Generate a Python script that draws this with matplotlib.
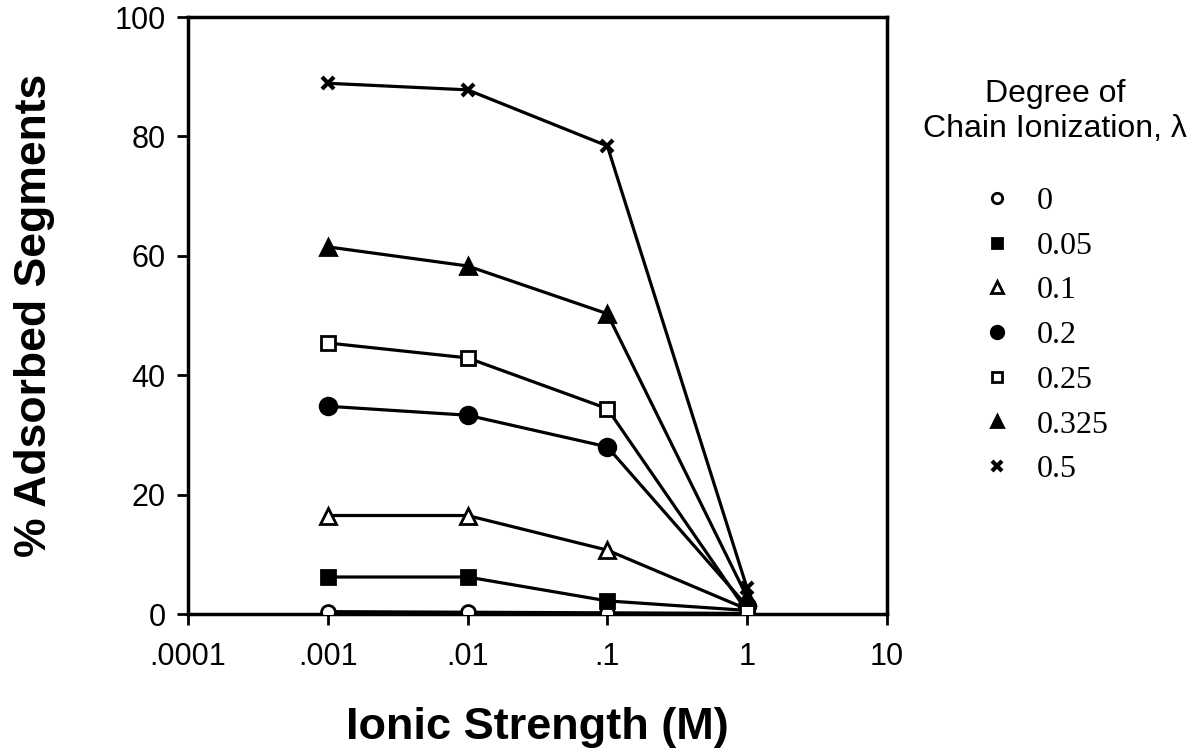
import numpy as np
import matplotlib
matplotlib.use("Agg")
import matplotlib.pyplot as plt

plt.rcParams['font.family'] = ['Liberation Sans', 'DejaVu Sans']

# ionic strength (M)
ionic = [0.001, 0.01, 0.1, 1.0]

# % adsorbed segments for each degree of chain ionization
lam_labels = ["0", "0.05", "0.1", "0.2", "0.25", "0.325", "0.5"]
ads_000 = [0.4, 0.3, 0.2, 0.1]
ads_005 = [6.2, 6.2, 2.2, 0.6]
ads_010 = [16.5, 16.5, 10.7, 0.8]
ads_020 = [34.8, 33.3, 28.0, 1.3]
ads_025 = [45.4, 42.9, 34.4, 0.4]
ads_0325 = [61.5, 58.3, 50.3, 2.8]
ads_050 = [88.9, 87.8, 78.4, 4.3]

series = [ads_000, ads_005, ads_010, ads_020, ads_025, ads_0325, ads_050]
# marker, filled?, size
styles = [("o", False, 10), ("s", True, 10), ("^", False, 11), ("o", True, 12),
          ("s", False, 10), ("^", True, 11), ("x", True, 9)]

fig = plt.figure(figsize=(12.01, 7.56), dpi=100)
ax = fig.add_axes([0.1565, 0.1878, 0.582, 0.7897])

handles = []
for vals, (mk, filled, ms) in zip(series, styles):
    h, = ax.plot(ionic, vals, color="black", lw=2.3, marker=mk, ms=ms,
                 mfc="black" if filled else "white", mec="black",
                 mew=3 if mk == "x" else 2, zorder=3)
    handles.append(h)

ax.set_xscale("log")
ax.set_xlim(1e-4, 10)
ax.set_ylim(0, 100)
ax.set_xticks([1e-4, 1e-3, 1e-2, 1e-1, 1, 10])
ax.set_xticklabels([".0001", ".001", ".01", ".1", "1", "10"])
ax.set_yticks([0, 20, 40, 60, 80, 100])
ax.minorticks_off()
ax.tick_params(axis="both", direction="out", length=8, width=2, labelsize=22, pad=8)
ax.tick_params(axis="x", pad=12)
for s in ax.spines.values():
    s.set_linewidth(2.5)

ax.set_xlabel("Ionic Strength (M)", fontsize=32.5, fontweight="bold")
ax.set_ylabel("% Adsorbed Segments", fontsize=32, fontweight="bold")
ax.xaxis.set_label_coords(0.5, -0.156)
ax.yaxis.set_label_coords(-0.19, 0.5)

# legend title
fig.text(0.8785, 0.8525, "Degree of\nChain Ionization, \u03bb", ha="center", va="center",
         multialignment="center", fontsize=23, linespacing=1.2)

leg = fig.legend(handles, lam_labels, loc="upper left", bbox_to_anchor=(0.8301, 0.753),
                 frameon=False, markerscale=0.75, handlelength=0, handletextpad=1.25,
                 labelspacing=0.48, borderpad=0, borderaxespad=0,
                 prop={"family": "Liberation Serif", "size": 23})
for lh in leg.legend_handles:
    lh.set_linestyle("none")

fig.savefig("out.png", dpi=100)
